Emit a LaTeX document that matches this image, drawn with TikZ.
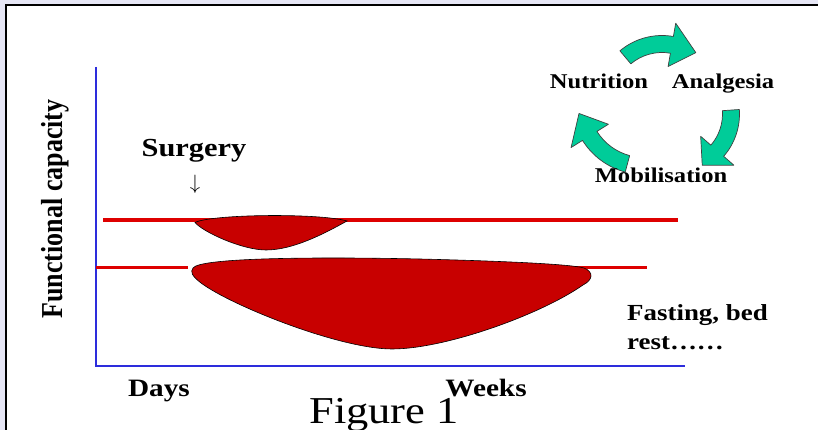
\documentclass[tikz,border=0pt]{standalone}
\usepackage{fontspec}
\setmainfont{Liberation Serif}
\usepackage{graphicx}
\definecolor{pageback}{RGB}{230,230,245}
\definecolor{cyclegreen}{RGB}{0,204,153}
\definecolor{lobered}{RGB}{200,0,0}
\definecolor{linered}{RGB}{222,0,0}
\definecolor{axisblue}{RGB}{45,45,220}
% stretched text, as on the slide
\newcommand{\wide}[1]{\scalebox{1.17}[1]{#1}}
% curved arrow of the care cycle: centre, radius, from, to, head
\newcommand{\cycarrow}[5]{%
  \filldraw[turnarrow,shift={#1}]
    ({#3}:{#2+8.5}) arc[start angle=#3,end angle=#4,radius=#2+8.5]
    -- ({#4}:{#2+22}) -- ({#4-#5}:{#2+2}) -- ({#4}:{#2-22})
    -- ({#4}:{#2-8.5}) arc[start angle=#4,end angle=#3,radius=#2-8.5]
    -- cycle;}
\begin{document}
\begin{tikzpicture}[x=1pt,y=1pt,
  lbl/.style={font=\bfseries\fontsize{#1}{#1}\selectfont,inner sep=0pt,anchor=base},
  turnarrow/.style={fill=cyclegreen,draw=black!75,line width=0.7pt,line join=round},
  lobe/.style={fill=lobered,draw=black,line width=0.6pt},
  level/.style={linered,line width=3.5pt}]
  \fill[pageback] (0,0) rectangle (818,430);
  \clip (0,0) rectangle (818,430);
  \draw[fill=white,line width=2pt] (6,-20) rectangle (840,425);

  % axes
  \draw[axisblue,line width=2.6pt] (96,363) -- (96,64) -- (685,64);

  % capacity levels
  \draw[level] (103,210) -- (678,210);
  \draw[level] (96,162.5) -- (188,162.5);
  \draw[level] (200,162.5) -- (647,162.5);

  % loss after surgery
  \filldraw[lobe] (195,207.5) .. controls (212,216) and (320,217) .. (347,209)
    .. controls (322,195) and (292,180) .. (266,180)
    .. controls (242,180) and (203,198) .. (195,207.5) -- cycle;
  \filldraw[lobe] (193,162) .. controls (200,173) and (330,173) .. (420,171)
    .. controls (500,169) and (570,166) .. (584,162)
    .. controls (594,158) and (593,150) .. (583,145)
    .. controls (540,115) and (445,81) .. (392,81)
    .. controls (340,81) and (232,124) .. (201,147)
    .. controls (192,154) and (190,158) .. (193,162) -- cycle;

  % care cycle
  \cycarrow{(662,329)}{57}{130}{80}{25}
  \cycarrow{(675,316)}{56}{4}{-41}{21}
  \cycarrow{(644,328)}{64}{255}{212}{22}

  \node[lbl=21] (nutr) at (599,341.5) {\wide{Nutrition}};
  \node[lbl=21] (analg) at (723,341.5) {\wide{Analgesia}};
  \node[lbl=21] (mobil) at (661,247) {\wide{Mobilisation}};

  \node[lbl=26,anchor=center,rotate=90] (fcap) at (55,221) {\scalebox{1}[1.17]{Functional capacity}};
  \node[lbl=26] (surg) at (194,273) {\wide{Surgery}};
  \node[font=\fontsize{22}{22}\selectfont,inner sep=0pt] (cut) at (195,246) {$\downarrow$};
  \node[lbl=23,anchor=base west] (fast) at (627,109.3) {\wide{Fasting, bed}};
  \node[lbl=23,anchor=base west] (rest) at (627,80.7) {\wide{rest……}};
  \node[lbl=25] (days) at (159,33.3) {\wide{Days}};
  \node[lbl=25] (weeks) at (486,33.3) {\wide{Weeks}};
  \node[font=\fontsize{38}{38}\selectfont,inner sep=0pt,anchor=base] (fig) at (384,6.7) {\wide{Figure 1}};
\end{tikzpicture}
\end{document}
